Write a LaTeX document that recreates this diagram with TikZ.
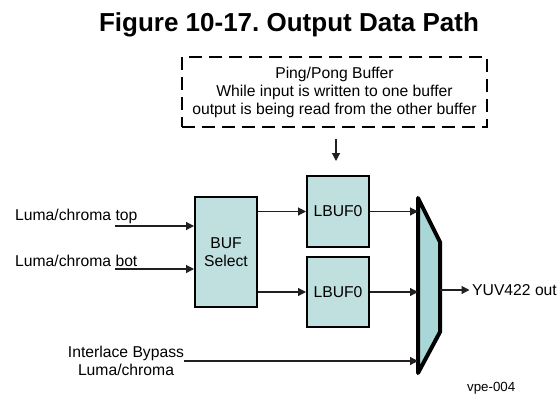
\documentclass[tikz,border=0pt]{standalone}
\usepackage{fontspec}
\setmainfont{Liberation Sans}
\usetikzlibrary{arrows.meta,calc}
\definecolor{boxfill}{HTML}{C0E0DF}
\definecolor{muxfill}{HTML}{A9D6D6}
\definecolor{linegray}{HTML}{231F20}
\frenchspacing
\begin{document}
\begin{tikzpicture}[
    x=1pt, y=-1pt,
    every node/.style={font=\fontsize{15.7}{18}\selectfont, text=black},
    box/.style={draw=black, line width=2pt, rectangle, fill=boxfill, minimum width=62pt, align=center, inner sep=0pt},
    label/.style={inner sep=0pt},
    arrow/.style={draw=linegray, line width=1.2pt, -{Triangle[length=8pt,width=8pt]}},
    pingbox/.style={draw=black, line width=2.5pt, dash pattern=on 13pt off 7pt, minimum width=305pt, minimum height=70pt, align=center, inner sep=0pt},
    mux/.style={draw=black, line width=4pt, fill=muxfill, line join=round}
]
\useasboundingbox (0,0) rectangle (560,394);
\node[font=\fontsize{26}{30}\bfseries] (title) at (289,25) {Figure 10-17. Output Data Path};
\node[pingbox] (pingpong) at (334.5,92) {Ping/Pong Buffer\\While input is written to one buffer\\output is being read from the other buffer};
\node[box, minimum height=110pt] (bufsel) at (226,252) {BUF\\Select};
\node[box, minimum height=71pt] (lbufa) at (338,211.5) {LBUF0};
\node[box, minimum height=70pt] (lbufb) at (338,292) {LBUF0};
\node[label, anchor=west] (topin) at (15,216) {Luma/chroma top};
\node[label, anchor=west] (botin) at (15,261) {Luma/chroma bot};
\node[label, align=center] (bypass) at (126,361) {Interlace Bypass\\Luma/chroma};
\node[label, anchor=west] (yuv) at (472,290) {YUV422 out};
\node[label, font=\fontsize{13.3}{15}\selectfont, anchor=west] (vpe) at (467,388) {vpe-004};
\coordinate (topstart) at (115,226);
\coordinate (botstart) at (115,269);
\coordinate (muxtl) at (418,198);
\coordinate (muxtr) at (440,242);
\coordinate (muxbr) at (440,332);
\coordinate (muxbl) at (418,373);
\coordinate (muxout) at (440,290);
\draw[mux] (muxtl) -- (muxtr) -- (muxbr) -- (muxbl) -- cycle;
\draw[arrow] (topstart) -- (topstart -| bufsel.west);
\draw[arrow] (botstart) -- (botstart -| bufsel.west);
\draw[arrow] (bufsel.east |- lbufa) -- (lbufa.west);
\draw[arrow] (bufsel.east |- lbufb) -- (lbufb.west);
\draw[arrow] (lbufa.east) -- (lbufa.east -| muxtl);
\draw[arrow] (lbufb.east) -- (lbufb.east -| muxtl);
\draw[arrow] (bypass.east) -- (bypass.east -| muxtl);
\draw[arrow, shorten >=2.5pt] (muxout) -- (yuv.west);
\draw[arrow, shorten <=11pt, shorten >=14pt] (pingpong.south -| 336,0) -- (lbufa.north -| 336,0);
\end{tikzpicture}
\end{document}
